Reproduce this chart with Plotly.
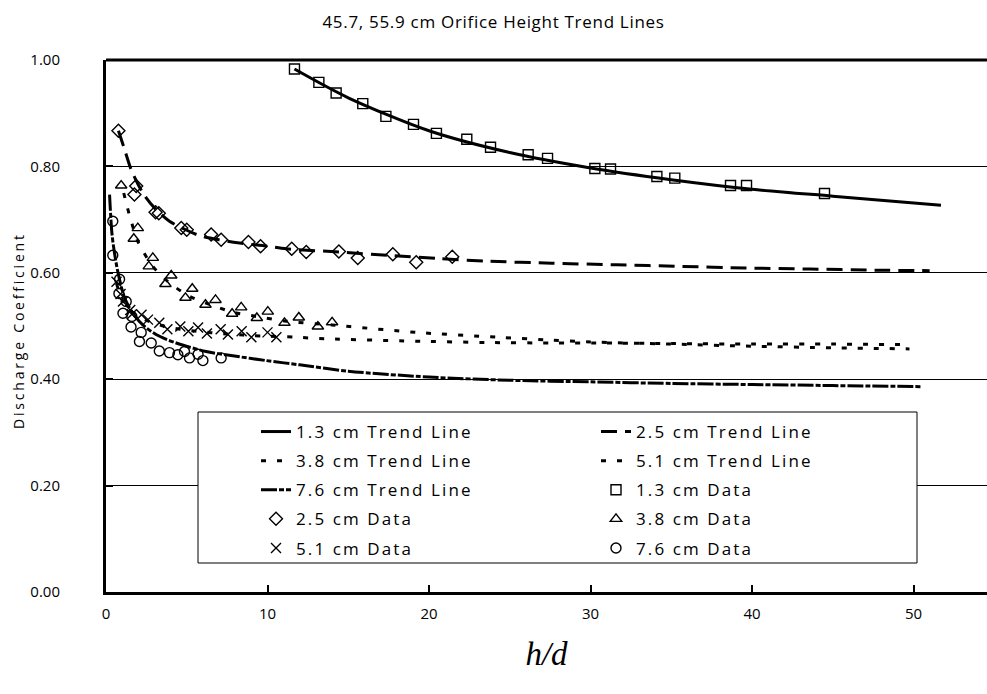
import plotly.graph_objects as go

# ---------------- data ----------------
TITLE = "45.7, 55.9 cm Orifice Height Trend Lines"
Y_TITLE = "Discharge Coefficient"
X_TITLE = "h/d"

x_tickvals = [0, 10, 20, 30, 40, 50]
x_ticktext = ["0", "10", "20", "30", "40", "50"]
y_tickvals = [0.0, 0.2, 0.4, 0.6, 0.8, 1.0]
y_ticktext = ["0.00", "0.20", "0.40", "0.60", "0.80", "1.00"]

# measured data
d13_x = [11.67, 13.18, 14.25, 15.90, 17.33, 19.04, 20.46, 22.34, 23.81, 26.14, 27.34,
         30.27, 31.24, 34.11, 35.22, 38.67, 39.66, 44.49]
d13_y = [0.983, 0.958, 0.938, 0.918, 0.894, 0.879, 0.862, 0.851, 0.836, 0.822, 0.815,
         0.796, 0.795, 0.781, 0.778, 0.764, 0.764, 0.749]

d25_x = [0.77, 1.87, 1.76, 3.07, 3.27, 4.66, 5.00, 6.51, 7.13, 8.82, 9.57, 11.50, 12.40,
         14.42, 15.59, 17.76, 19.21, 21.44]
d25_y = [0.867, 0.763, 0.747, 0.714, 0.712, 0.684, 0.681, 0.672, 0.662, 0.658, 0.650,
         0.645, 0.639, 0.640, 0.628, 0.635, 0.620, 0.630]

d38_x = [0.94, 1.97, 1.72, 2.90, 2.65, 4.04, 3.68, 5.34, 4.92, 6.78, 6.16, 8.37, 7.81,
         10.02, 9.34, 11.94, 11.05, 14.00, 13.12]
d38_y = [0.764, 0.684, 0.664, 0.628, 0.612, 0.595, 0.579, 0.570, 0.553, 0.549, 0.540,
         0.535, 0.523, 0.527, 0.515, 0.516, 0.506, 0.507, 0.499]

d51_x = [0.65, 0.90, 1.05, 1.50, 1.60, 2.20, 2.60, 3.30, 3.80, 4.60, 5.10, 5.70, 6.25,
         7.10, 7.55, 8.40, 9.00, 10.00, 10.55]
d51_y = [0.583, 0.560, 0.546, 0.530, 0.522, 0.521, 0.512, 0.506, 0.494, 0.499, 0.490,
         0.497, 0.486, 0.494, 0.484, 0.490, 0.479, 0.488, 0.479]

d76_x = [0.42, 0.42, 0.84, 0.80, 1.25, 1.05, 1.60, 1.55, 2.18, 2.07, 2.80, 3.30, 3.93,
         4.45, 4.86, 5.17, 5.70, 6.00, 7.13]
d76_y = [0.697, 0.633, 0.588, 0.561, 0.546, 0.524, 0.518, 0.498, 0.488, 0.471, 0.468,
         0.453, 0.450, 0.446, 0.452, 0.440, 0.447, 0.435, 0.440]

# trend lines
t13_x = [11.67, 15.0, 20.0, 25.0, 30.0, 35.0, 40.0, 45.0, 51.7]
t13_y = [0.983, 0.929, 0.867, 0.826, 0.797, 0.775, 0.757, 0.744, 0.727]

t25_x = [0.77, 1.15, 1.56, 2.28, 3.0, 3.93, 5.0, 5.79, 7.0, 8.27, 10.0, 11.16, 14.46,
         17.8, 20.5, 23.5, 27.6, 31.6, 35.6, 39.6, 43.6, 47.6, 51.0]
t25_y = [0.867, 0.832, 0.794, 0.750, 0.722, 0.697, 0.680, 0.670, 0.662, 0.656, 0.650,
         0.645, 0.639, 0.632, 0.627, 0.622, 0.618, 0.615, 0.612, 0.609, 0.607, 0.605, 0.604]

t38_x = [1.10, 1.25, 1.56, 1.97, 2.9, 3.93, 5.17, 6.2, 7.85, 9.3, 11.16, 14.0, 15.1,
         19.2, 24.2, 27.2, 30.0, 35.0, 40.0, 45.0, 49.75]
t38_y = [0.750, 0.731, 0.697, 0.659, 0.612, 0.581, 0.556, 0.543, 0.526, 0.518, 0.509,
         0.502, 0.499, 0.488, 0.479, 0.474, 0.470, 0.466, 0.462, 0.459, 0.457]

t51_x = [0.65, 1.0, 1.5, 2.0, 3.0, 4.0, 5.0, 6.0, 7.0, 8.0, 9.0, 10.0, 11.67, 13.6,
         19.9, 23.6, 27.6, 30.4, 35.0, 40.0, 45.0, 49.75]
t51_y = [0.580, 0.550, 0.530, 0.518, 0.505, 0.497, 0.492, 0.489, 0.486, 0.484, 0.482,
         0.481, 0.479, 0.476, 0.471, 0.469, 0.468, 0.468, 0.467, 0.466, 0.466, 0.465]

t76_x = [0.22, 0.38, 0.63, 0.84, 1.15, 1.66, 2.28, 3.1, 4.35, 6.2, 7.85, 9.92, 11.98,
         15.0, 20.0, 25.0, 30.0, 35.0, 40.0, 45.0, 50.5]
t76_y = [0.747, 0.670, 0.618, 0.587, 0.553, 0.524, 0.502, 0.484, 0.468, 0.452, 0.444,
         0.435, 0.427, 0.415, 0.404, 0.398, 0.395, 0.392, 0.390, 0.388, 0.386]

# ---------------- figure ----------------
FONT = "Open Sans"
W, H = 987, 694
ML, MR, MT, MB = 106, 0, 60, 102
PW, PH = W - ML - MR, H - MT - MB
X_MAX = PW / 16.15


def spaced(text, px):
    return f'<span style="letter-spacing:{px}px">{text}</span>'


def px_x(p):
    return (p - ML) / PW


def px_y(p):
    return (H - MB - p) / PH


fig = go.Figure()

trend_specs = [
    ("1.3 cm Trend Line", t13_x, t13_y, "solid", "legend"),
    ("2.5 cm Trend Line", t25_x, t25_y, "16px,8px", "legend2"),
    ("3.8 cm Trend Line", t38_x, t38_y, "5px,11px", "legend"),
    ("5.1 cm Trend Line", t51_x, t51_y, "5px,11px", "legend2"),
    ("7.6 cm Trend Line", t76_x, t76_y, "16px,2px,5px,2px", "legend"),
]
for name, xs, ys, dash, leg in trend_specs:
    fig.add_trace(go.Scatter(
        x=xs, y=ys, mode="lines", name=spaced(name, 2.1),
        line=dict(color="black", width=3, dash=dash, shape="spline", smoothing=0.8),
        legend=leg, legendgroup=name, showlegend=True))

data_specs = [
    ("1.3 cm Data", d13_x, d13_y, "square-open", 10, "legend2"),
    ("2.5 cm Data", d25_x, d25_y, "diamond-open", 10, "legend"),
    ("3.8 cm Data", d38_x, d38_y, "triangle-up-open", 10, "legend2"),
    ("5.1 cm Data", d51_x, d51_y, "x-thin-open", 10, "legend"),
    ("7.6 cm Data", d76_x, d76_y, "circle-open", 10, "legend2"),
]
for name, xs, ys, sym, size, leg in data_specs:
    fig.add_trace(go.Scatter(
        x=xs, y=ys, mode="markers", name=spaced(name, 2.1),
        marker=dict(symbol=sym, size=size, color="black",
                    line=dict(color="black", width=1.4)),
        legend=leg, legendgroup=name, showlegend=True))

# legend box and top frame line
fig.add_shape(type="rect", xref="paper", yref="paper",
              x0=px_x(198), x1=px_x(917), y0=px_y(563), y1=px_y(412),
              line=dict(color="black", width=1), fillcolor="white", layer="above")
fig.add_shape(type="line", xref="paper", yref="paper", x0=0, x1=1, y0=1, y1=1,
              line=dict(color="black", width=3), layer="above")

legend_common = dict(
    orientation="v", xanchor="left", yanchor="top", bgcolor="rgba(0,0,0,0)",
    borderwidth=0, font=dict(family=FONT, size=17, color="black"),
    tracegroupgap=4, itemwidth=30, traceorder="grouped")

fig.update_layout(
    width=W, height=H,
    margin=dict(l=ML, r=MR, t=MT, b=MB),
    paper_bgcolor="white", plot_bgcolor="white",
    font=dict(family=FONT, color="black"),
    title=dict(text=spaced(TITLE, 0.7), x=0.5, xref="container", xanchor="center",
               y=1 - 22 / H, yref="container", yanchor="middle",
               font=dict(family=FONT, size=17, color="black")),
    legend=dict(x=px_x(256), y=px_y(414), **legend_common),
    legend2=dict(x=px_x(596), y=px_y(414), **legend_common),
    xaxis=dict(range=[0, X_MAX], tickvals=x_tickvals, ticktext=x_ticktext,
               showgrid=False, zeroline=False, showline=True, linecolor="black",
               linewidth=3, ticks="inside", ticklen=7, tickwidth=2, tickcolor="black",
               tickfont=dict(family=FONT, size=15, color="black"),
               ticklabelstandoff=6,
               title=dict(text=X_TITLE, standoff=20,
                          font=dict(family="Liberation Serif", size=33,
                                    style="italic", color="black"))),
    yaxis=dict(range=[0, 1], tickvals=y_tickvals, ticktext=y_ticktext,
               showgrid=True, gridcolor="black", gridwidth=1, zeroline=False,
               showline=True, linecolor="black", linewidth=3, ticks="inside",
               ticklen=7, tickwidth=2, tickcolor="black",
               tickfont=dict(family=FONT, size=15, color="black"),
               ticklabelstandoff=40),
    annotations=[dict(text=spaced(Y_TITLE, 2.8), xref="paper", yref="paper",
                      x=px_x(18), y=px_y(331), xanchor="center", yanchor="middle",
                      textangle=-90, showarrow=False,
                      font=dict(family=FONT, size=14, color="black"))],
)

fig.write_html("out.html")
